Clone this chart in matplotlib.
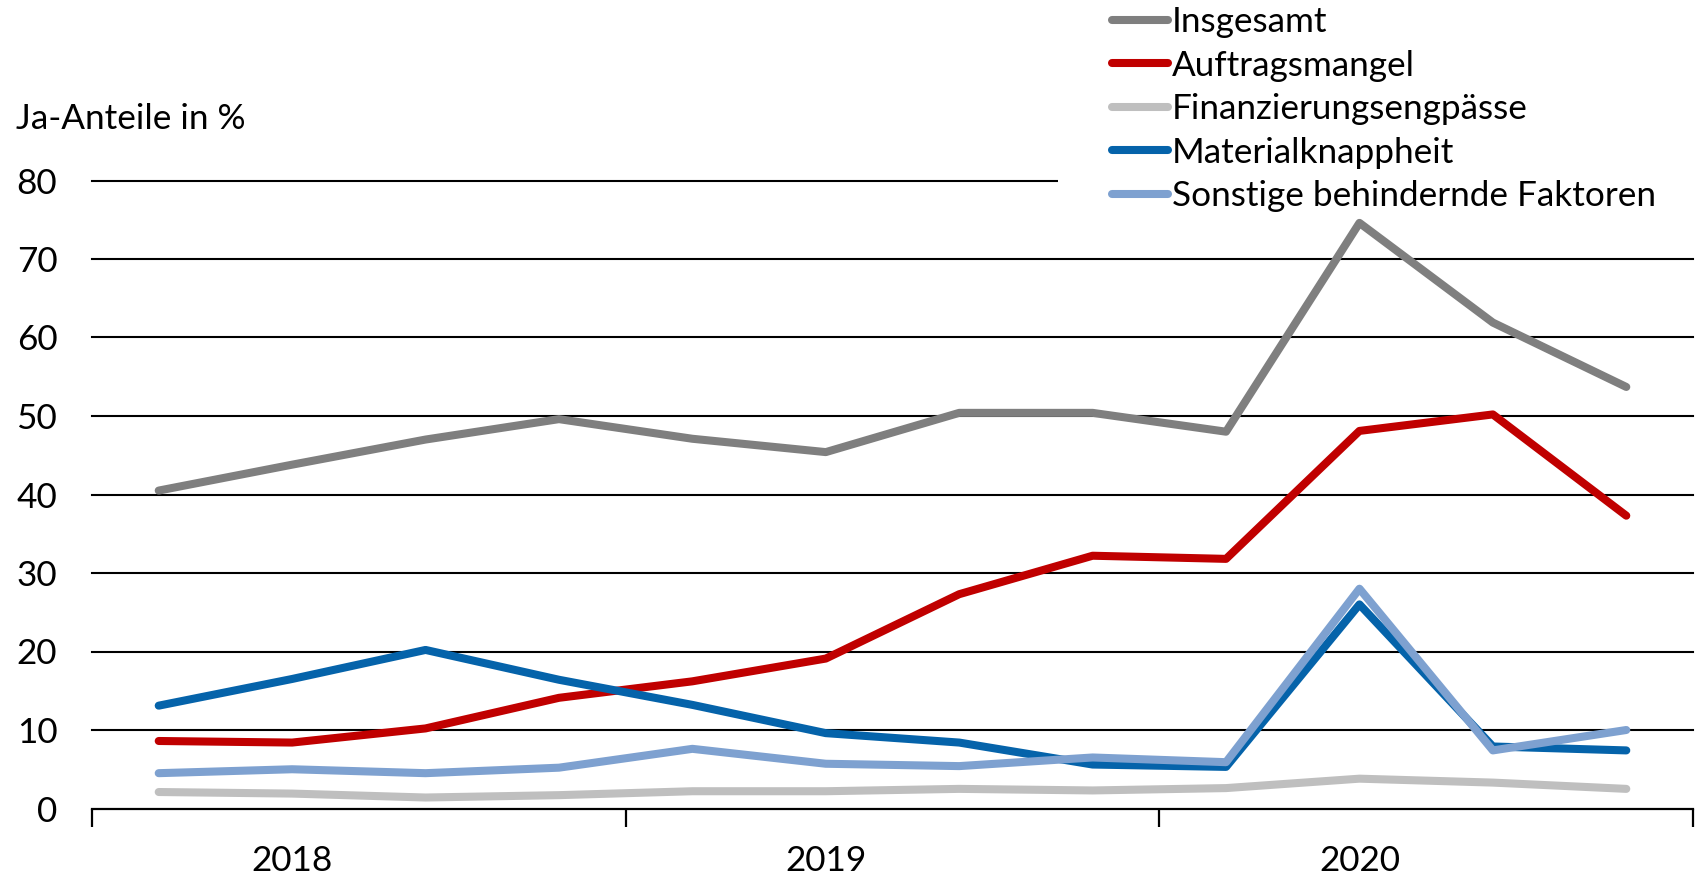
import matplotlib
matplotlib.use("Agg")
import matplotlib.pyplot as plt
from matplotlib.lines import Line2D
from matplotlib.patches import Rectangle

plt.rcParams['font.family'] = ['Lato', 'DejaVu Sans']

years = ["2018", "2019", "2020"]
quarters = list(range(12))
insgesamt = [40.5, 43.8, 47.0, 49.6, 47.1, 45.4, 50.4, 50.4, 48.0, 74.6, 61.9, 53.7]
auftragsmangel = [8.6, 8.4, 10.2, 14.1, 16.2, 19.1, 27.3, 32.2, 31.8, 48.1, 50.2, 37.3]
finanzierung = [2.1, 1.9, 1.4, 1.7, 2.2, 2.2, 2.5, 2.3, 2.6, 3.8, 3.3, 2.5]
material = [13.1, 16.5, 20.2, 16.4, 13.2, 9.6, 8.4, 5.6, 5.3, 26.0, 7.9, 7.4]
sonstige = [4.5, 5.0, 4.5, 5.2, 7.6, 5.7, 5.4, 6.5, 5.9, 28.0, 7.4, 10.0]

series = [
    ("Insgesamt", insgesamt, "#7F7F7F"),
    ("Auftragsmangel", auftragsmangel, "#C00000"),
    ("Finanzierungsengpässe", finanzierung, "#BFBFBF"),
    ("Materialknappheit", material, "#0563AA"),
    ("Sonstige behindernde Faktoren", sonstige, "#7EA1D0"),
]

FS = 25.3
LW = 5.8
W, H = 1697, 875
fig = plt.figure(figsize=(W/100, H/100), dpi=100)
x0, x1 = 92, 1693
y0, y80 = 808.5, 180.5
ax = fig.add_axes([x0/W, (H-y0)/H, (x1-x0)/W, (y0-y80)/H])

for name, vals, col in series:
    ax.plot(quarters, vals, color=col, lw=LW, label=name, solid_capstyle='round',
            solid_joinstyle='round', clip_on=False, zorder=3)

ax.set_xlim(-0.5, 11.5)
ax.set_ylim(0, 80)
ax.set_yticks(range(0, 81, 10))
ax.set_yticklabels([str(v) for v in range(0, 81, 10)], fontsize=FS)
for v in range(10, 81, 10):
    ax.axhline(v, color='black', lw=1.5, zorder=1, clip_on=False)
ax.tick_params(axis='y', length=0, pad=25)
for s in ['left', 'right', 'top']:
    ax.spines[s].set_visible(False)
ax.spines['bottom'].set_linewidth(1.6)
ax.spines['bottom'].set_zorder(2)
ax.set_xticks([-0.5, 3.5, 7.5, 11.5])
ax.set_xticklabels([])
ax.tick_params(axis='x', which='major', length=13, width=1.6, direction='out')
# year labels sit under the second quarter of each year
ax.set_xticks([1, 5, 9], minor=True)
ax.set_xticklabels(years, minor=True, fontsize=FS)
ax.tick_params(axis='x', which='minor', length=0, pad=26)

fig.text(16/W, (H-119)/H, "Ja-Anteile in %", fontsize=FS, va='center', ha='left')

# white backing behind the legend (covers the top gridline on the right)
fig.patches.append(Rectangle((1058/W, (H-212)/H), (W-1058)/W, 212/H,
                             transform=fig.transFigure, facecolor='white',
                             edgecolor='none', zorder=4))

handles = [Line2D([], [], color=c, lw=LW, solid_capstyle='round') for _, _, c in series]
leg = fig.legend(handles, [n for n, _, _ in series], loc='upper left',
                 bbox_to_anchor=(1112/W, 1.0 - 6/H), fontsize=FS, frameon=False,
                 handlelength=1.6, handletextpad=0.1, labelspacing=0.33,
                 borderpad=0.0, borderaxespad=0)
leg.set_zorder(5)

fig.savefig("out.png", dpi=100, facecolor='white')
